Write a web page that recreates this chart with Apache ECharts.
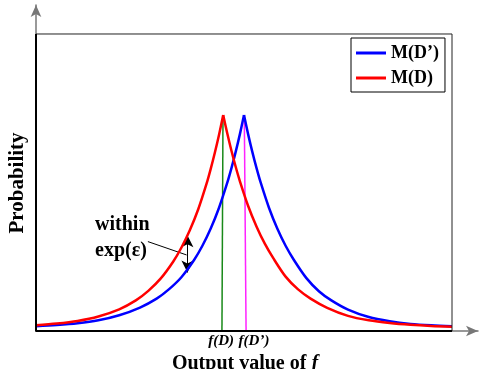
<!DOCTYPE html>
<html>
<head>
<meta charset="utf-8">
<script src="https://cdn.jsdelivr.net/npm/echarts@6/dist/echarts.min.js"></script>
<style>html,body{margin:0;padding:0;background:#fff;}#c{width:479px;height:369px;}</style>
</head>
<body>
<div id="c"></div>
<script>
// ---- data ----
const redLeftX  = [0, 5, 10, 15, 20, 24, 27, 30, 33, 35, 37, 39, 41, 42, 43, 44, 45];
const redLeftY  = [1.9, 2.5, 3.4, 4.9, 7.3, 10.3, 13.5, 17.7, 23.4, 28.2, 34.0, 41.0, 49.6, 54.6, 60.1, 66.1, 72.7];
const redRightX = [45, 46, 47, 48, 49, 51, 53, 55, 57, 60, 63, 66, 70, 75, 80, 85, 90, 95, 100];
const redRightY = [72.7, 66.4, 60.6, 55.3, 50.5, 42.1, 35.2, 29.4, 24.6, 18.3, 14.0, 10.9, 7.8, 5.1, 3.6, 2.7, 2.1, 1.7, 1.45];
const blueLeftX  = [0, 5, 10, 15, 20, 25, 29, 32, 35, 38, 40, 42, 44, 46, 47, 48, 49, 50];
const blueLeftY  = [1.6, 2.0, 2.6, 3.6, 5.3, 7.9, 10.9, 14.1, 18.2, 23.9, 28.7, 34.5, 41.5, 50, 54.9, 60.3, 66.2, 72.7];
const blueRightX = [50, 51, 52, 53, 54, 56, 58, 60, 62, 65, 68, 71, 75, 80, 85, 90, 95, 100];
const blueRightY = [72.7, 66.2, 60.3, 54.9, 50, 41.5, 34.5, 28.7, 23.9, 17.8, 13.4, 10.3, 7.2, 4.7, 3.3, 2.4, 1.9, 1.6];
const greenLine   = [[44.95, 72.7], [44.7, 0]];
const magentaLine = [[50.07, 72.7], [50.5, 0]];
const tickValues = [44.5, 52.4];
const tickLabels = ['f(D)', 'f(D\u2019)'];
const seriesNames = ['M(D\u2019)', 'M(D)'];
const arrowX = 36.4, arrowTop = 32.2, arrowBottom = 19.7;
const leader = [[26.9, 30.1], [36.2, 25.6]];
const notePos = [14.2, 31.3];
const noteText = 'within\nexp(\u03b5)';
// ---------------------------------------

const zip = (xs, ys) => xs.map((x, i) => [x, ys[i]]);
const serif = 'Liberation Serif';
const chart = echarts.init(document.getElementById('c'), null, {renderer: 'canvas'});

const curve = (name, color, data) => ({
  name, type: 'line', data, symbol: 'none', showSymbol: false, smooth: 0.3, z: 5,
  lineStyle: {color, width: 2.5, join: 'round'}, itemStyle: {color}
});

chart.setOption({
  animation: false,
  grid: {left: 36, right: 1, top: 5, bottom: 38, containLabel: false, outerBoundsMode: 'none'},
  legend: {
    data: seriesNames, orient: 'vertical', left: 351, top: 38,
    padding: [6, 6, 5, 5], itemGap: 7, itemWidth: 30, itemHeight: 3, icon: 'rect',
    borderColor: '#000', borderWidth: 1, backgroundColor: '#fff',
    textStyle: {fontFamily: serif, fontSize: 18, fontWeight: 'bold', color: '#000'}
  },
  xAxis: {
    type: 'value', min: 0, max: 106.25,
    splitLine: {show: false}, axisTick: {show: false},
    axisLine: {show: true, symbol: ['none', 'arrow'], symbolSize: [8, 12],
      lineStyle: {color: '#777', width: 1.5}},
    axisLabel: {
      customValues: tickValues, margin: 3,
      formatter: v => { const i = tickValues.findIndex(t => Math.abs(t - v) < 1e-6); return i >= 0 ? tickLabels[i] : ''; },
      fontFamily: serif, fontSize: 15, fontStyle: 'italic', fontWeight: 'bold', color: '#000'
    },
    name: '{b|Output value of }{i|f}', nameLocation: 'middle', nameGap: 15,
    nameTextStyle: {padding: [0, 24, 0, 0],
      rich: {b: {fontFamily: serif, fontSize: 20, fontWeight: 'bold', color: '#000'},
             i: {fontFamily: serif, fontSize: 20, fontWeight: 'bold', fontStyle: 'italic', color: '#000'}}}
  },
  yAxis: {
    type: 'value', min: 0, max: 109.76,
    splitLine: {show: false}, axisTick: {show: false}, axisLabel: {show: false},
    axisLine: {show: true, symbol: ['none', 'arrow'], symbolSize: [8, 12],
      lineStyle: {color: '#777', width: 1.5}},
    name: 'Probability', nameLocation: 'middle', nameGap: 8,
    nameTextStyle: {fontFamily: serif, fontSize: 21, fontWeight: 'bold', color: '#000', padding: [0, 30, 0, 0]}
  },
  series: [
    {type: 'line', data: greenLine, symbol: 'none', z: 3, lineStyle: {color: '#1a8a1a', width: 1.5}},
    {type: 'line', data: magentaLine, symbol: 'none', z: 3, lineStyle: {color: '#ff22ff', width: 1.5}},
    curve(seriesNames[0], '#0000ff', zip(blueLeftX, blueLeftY)),
    curve(seriesNames[0], '#0000ff', zip(blueRightX, blueRightY)),
    curve(seriesNames[1], '#ff0000', zip(redLeftX, redLeftY)),
    curve(seriesNames[1], '#ff0000', zip(redRightX, redRightY)),
    {type: 'line', data: [[0, 100], [100, 100], [100, 0]], symbol: 'none', clip: false, z: 6,
      lineStyle: {color: '#222', width: 1}},
    {type: 'line', data: [[0, 100], [0, 0], [100, 0]], symbol: 'none', clip: false, z: 7,
      lineStyle: {color: '#000', width: 2},
      markLine: {
        silent: true, animation: false,
        label: {show: false},
        data: [
          [{coord: [arrowX, arrowTop], symbol: 'arrow', symbolSize: [9, 12]},
           {coord: [arrowX, arrowBottom], symbol: 'arrow', symbolSize: [9, 12]}],
          [{coord: leader[0], symbol: 'none'}, {coord: leader[1], symbol: 'none'}]
        ],
        lineStyle: {color: '#000', width: 1, type: 'solid'}
      },
      markPoint: {
        silent: true, symbol: 'circle', symbolSize: 0,
        data: [{coord: notePos}],
        label: {show: true, position: 'right', distance: 0, formatter: noteText,
          fontFamily: serif, fontSize: 20, fontWeight: 'bold', lineHeight: 26, color: '#000', align: 'left'}
      }
    }
  ]
});
</script>
</body>
</html>
